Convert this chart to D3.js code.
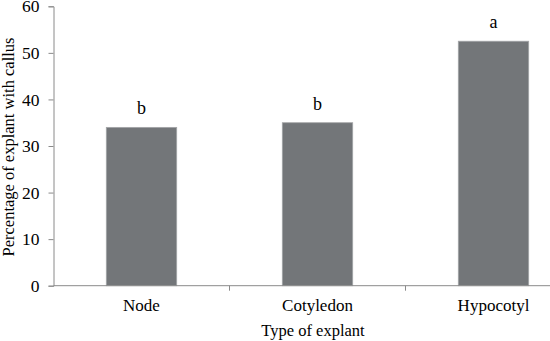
<!DOCTYPE html>
<html>
<head>
<meta charset="utf-8">
<script src="https://cdn.jsdelivr.net/npm/d3@7"></script>
<style>
  body { margin: 0; background: #fff; }
  text { font-family: "Liberation Serif", "Times New Roman", serif; fill: #000; }
</style>
</head>
<body>
<div id="chart"></div>
<script>
// --- Datos ---
const categories = ["Node", "Cotyledon", "Hypocotyl"];
const values = [34, 35, 52.5];
const letters = ["b", "b", "a"];
const yTicks = [0, 10, 20, 30, 40, 50, 60];

const width = 550, height = 341;
const margin = { left: 53.5, top: 6.3 };

const svg = d3.select("#chart").append("svg")
    .attr("width", width)
    .attr("height", height);

// el área del gráfico sigue más allá del borde derecho (banda ~176 px)
const x = d3.scaleBand()
    .domain(categories)
    .range([margin.left, margin.left + 528])
    .paddingInner(0.6)
    .paddingOuter(0.3);

const y = d3.scaleLinear()
    .domain([0, 60])
    .range([285.7, margin.top]);

const axisColor = "#8a8a8a";

// --- Barras ---
svg.selectAll("rect.bar")
    .data(categories)
    .enter()
    .append("rect")
    .attr("class", "bar")
    .attr("x", d => x(d))
    .attr("width", x.bandwidth())
    .attr("y", (d, i) => y(values[i]))
    .attr("height", (d, i) => y(0) - y(values[i]))
    .attr("fill", "#737679")
    .attr("stroke", "#a3a5a7")
    .attr("stroke-width", 0.8);

// --- Letras ---
svg.selectAll("text.letter")
    .data(categories)
    .enter()
    .append("text")
    .attr("class", "letter")
    .attr("x", d => x(d) + x.bandwidth() / 2)
    .attr("y", (d, i) => y(values[i]) - 13)
    .attr("text-anchor", "middle")
    .style("font-size", "18px")
    .text((d, i) => letters[i]);

// --- Eje Y ---
const yAxis = svg.append("g")
    .attr("transform", `translate(${margin.left},0)`)
    .call(d3.axisLeft(y).tickValues(yTicks).tickSize(5).tickPadding(9));
yAxis.select(".domain").attr("stroke", axisColor);
yAxis.selectAll(".tick line").attr("stroke", axisColor);
yAxis.selectAll(".tick text")
    .style("font-size", "17.5px")
    .attr("fill", "#000");

// --- Eje X ---
const xAxis = svg.append("g")
    .attr("transform", `translate(0,${y(0)})`)
    .call(d3.axisBottom(x).tickSize(0).tickPadding(13));
xAxis.select(".domain").remove();
svg.append("line")
    .attr("x1", margin.left).attr("x2", width)
    .attr("y1", y(0)).attr("y2", y(0))
    .attr("stroke", axisColor);
xAxis.selectAll(".tick text")
    .style("font-size", "17px")
    .attr("fill", "#000");

// separadores entre categorías
const step = x.step();
svg.selectAll("line.sep")
    .data(categories.slice(1))
    .enter()
    .append("line")
    .attr("class", "sep")
    .attr("x1", d => x(d) - step * 0.3)
    .attr("x2", d => x(d) - step * 0.3)
    .attr("y1", y(0))
    .attr("y2", y(0) + 5)
    .attr("stroke", axisColor);

// --- Títulos ---
svg.append("text")
    .attr("x", 313)
    .attr("y", 336)
    .attr("text-anchor", "middle")
    .style("font-size", "16.5px")
    .text("Type of explant");

svg.append("text")
    .attr("transform", `translate(14,147) rotate(-90)`)
    .attr("text-anchor", "middle")
    .style("font-size", "16.5px")
    .text("Percentage of explant with callus");
</script>
</body>
</html>
